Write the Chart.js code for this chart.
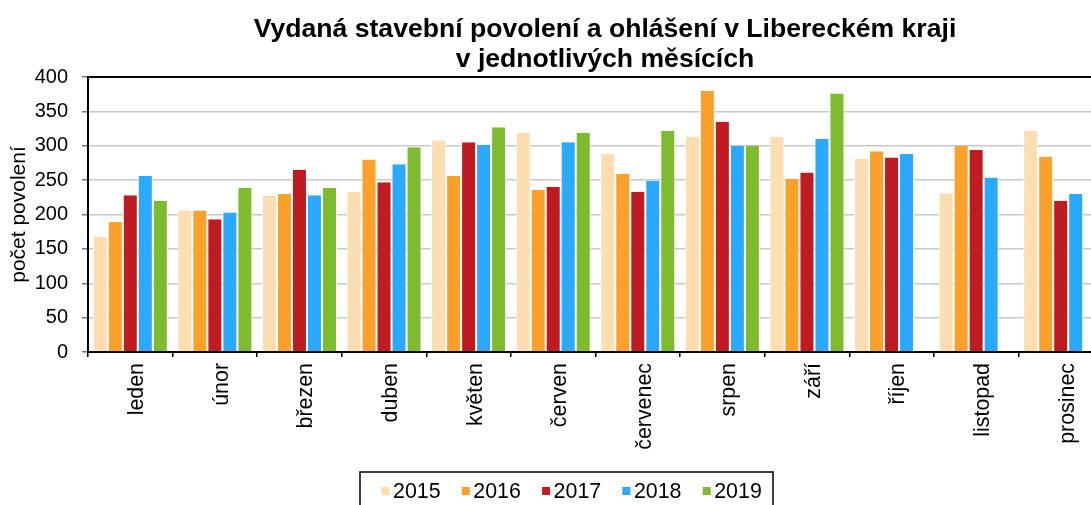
<!DOCTYPE html>
<html>
<head>
<meta charset="utf-8">
<script src="https://cdn.jsdelivr.net/npm/chart.js@4/dist/chart.umd.min.js"></script>
<style>
  html, body { margin: 0; padding: 0; background: #fff; overflow: hidden; }
  #wrap { position: relative; width: 1091px; height: 505px; overflow: hidden; }
  canvas { display: block; }
</style>
</head>
<body>
<div id="wrap"><canvas id="c" width="1120" height="505"></canvas></div>
<script>
const titleLines = ['Vydaná stavební povolení a ohlášení v Libereckém kraji', 'v jednotlivých měsících'];
const yAxisTitle = 'počet povolení';
const months = ['leden', 'únor', 'březen', 'duben', 'květen', 'červen', 'červenec', 'srpen', 'září', 'říjen', 'listopad', 'prosinec'];
const years = ['2015', '2016', '2017', '2018', '2019'];
const v2015 = [168, 206, 227, 233, 308, 319, 288, 313, 313, 281, 231, 322];
const v2016 = [189, 206, 230, 280, 256, 236, 259, 380, 252, 292, 300, 284];
const v2017 = [228, 193, 265, 247, 305, 240, 233, 335, 261, 283, 294, 220];
const v2018 = [256, 203, 228, 273, 301, 305, 249, 300, 310, 288, 254, 230];
const v2019 = [220, 239, 239, 298, 327, 319, 322, 300, 376, null, null, null];
const yTicks = [0, 50, 100, 150, 200, 250, 300, 350, 400];

const seriesValues = [v2015, v2016, v2017, v2018, v2019];
const colors = ['#FDDDB2', '#F9A12A', '#BF1B23', '#2AA9FE', '#7FBB2F'];

const FONT = '"Liberation Sans", Arial, sans-serif';

const decorPlugin = {
  id: 'decor',
  afterDraw(chart) {
    const ctx = chart.ctx;
    const a = chart.chartArea;
    ctx.save();
    // top border of plot
    ctx.strokeStyle = '#000';
    ctx.lineWidth = 2;
    ctx.beginPath();
    ctx.moveTo(a.left - 1, a.top);
    ctx.lineTo(a.right, a.top);
    ctx.stroke();
    // title
    ctx.fillStyle = '#000';
    ctx.font = 'bold 26.6px ' + FONT;
    ctx.textAlign = 'center';
    ctx.textBaseline = 'alphabetic';
    ctx.fillText(titleLines[0], 605, 37);
    ctx.fillText(titleLines[1], 605, 67);
    // legend
    const lx = 360, ly = 472, lw = 413, lh = 45;
    ctx.lineWidth = 1.5;
    ctx.strokeStyle = '#000';
    ctx.strokeRect(lx, ly, lw, lh);
    ctx.font = '21.4px ' + FONT;
    ctx.textAlign = 'left';
    chart.data.datasets.forEach((ds, i) => {
      const x = 381.5 + i * 80.3;
      ctx.fillStyle = ds.backgroundColor;
      ctx.fillRect(x, 487, 8, 8);
      ctx.fillStyle = '#000';
      ctx.fillText(ds.label, x + 11.5, 497.5);
    });
    ctx.restore();
  }
};

new Chart(document.getElementById('c'), {
  type: 'bar',
  data: {
    labels: months,
    datasets: years.map((y, i) => ({
      label: y,
      data: seriesValues[i],
      backgroundColor: colors[i],
      borderColor: '#ffffff',
      borderWidth: { left: 1, right: 1, top: 0, bottom: 0 },
      categoryPercentage: 0.887,
      barPercentage: 1.0
    }))
  },
  options: {
    responsive: false,
    animation: false,
    devicePixelRatio: 1,
    layout: { padding: { top: 77, right: 17, bottom: 43, left: 0 } },
    plugins: {
      legend: { display: false },
      title: { display: false },
      tooltip: { enabled: false }
    },
    scales: {
      x: {
        afterFit(s) { s.height = 110; },
        grid: {
          offset: true,
          drawOnChartArea: false,
          drawTicks: true,
          tickLength: 5,
          tickColor: '#000',
          lineWidth: 1.5
        },
        border: { display: true, color: '#000', width: 2 },
        ticks: {
          autoSkip: false,
          minRotation: 90,
          maxRotation: 90,
          padding: 6,
          labelOffset: 7,
          color: '#000',
          font: { family: FONT, size: 21.4 }
        }
      },
      y: {
        min: 0,
        max: 400,
        afterFit(s) { s.width = 88; },
        afterBuildTicks(s) { s.ticks = yTicks.map(v => ({ value: v })); },
        grid: {
          color: '#c8c8c8',
          lineWidth: 1.5,
          drawTicks: true,
          tickLength: 6,
          tickColor: '#777'
        },
        border: { display: true, color: '#000', width: 2 },
        ticks: {
          padding: 14,
          color: '#000',
          font: { family: FONT, size: 20 }
        },
        title: {
          display: true,
          text: yAxisTitle,
          color: '#000',
          padding: { top: 7, bottom: 0 },
          font: { family: FONT, size: 21 }
        }
      }
    }
  },
  plugins: [decorPlugin]
});
</script>
</body>
</html>
